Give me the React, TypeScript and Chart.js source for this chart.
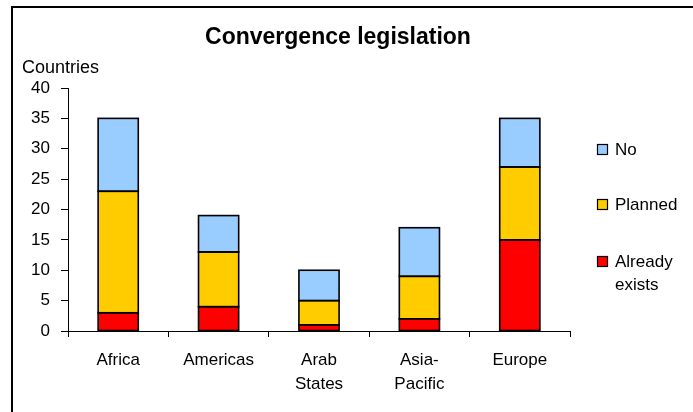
import React, { useEffect, useRef } from "react";
import { Chart, registerables } from "chart.js";

Chart.register(...registerables);

const categories: (string | string[])[] = ["Africa", "Americas", ["Arab", "States"], ["Asia-", "Pacific"], "Europe"];
const alreadyExists = [3, 4, 1, 2, 15];
const planned = [20, 9, 4, 7, 12];
const no = [12, 6, 5, 8, 8];
const yTicks = [0, 5, 10, 15, 20, 25, 30, 35, 40];

const FONT = "'Liberation Sans', Arial, sans-serif";

const outlinePlugin = {
  id: "outline",
  afterDatasetsDraw(chart: any) {
    const ctx = chart.ctx as CanvasRenderingContext2D;
    ctx.save();
    ctx.strokeStyle = "#000";
    ctx.lineWidth = 1.6;
    chart.data.datasets.forEach((_: any, di: number) => {
      const meta = chart.getDatasetMeta(di);
      meta.data.forEach((el: any) => {
        const { x, y, base, width } = el.getProps(["x", "y", "base", "width"], true);
        ctx.strokeRect(x - width / 2, Math.min(y, base), width, Math.abs(base - y));
      });
    });
    ctx.restore();
  },
};

const decorPlugin = {
  id: "decor",
  afterDraw(chart: any) {
    const ctx = chart.ctx as CanvasRenderingContext2D;
    ctx.save();
    // frame
    ctx.strokeStyle = "#000";
    ctx.lineWidth = 2;
    ctx.beginPath();
    ctx.moveTo(12, 420);
    ctx.lineTo(12, 7);
    ctx.lineTo(700, 7);
    ctx.stroke();
    // title
    ctx.fillStyle = "#000";
    ctx.font = `bold 23px ${FONT}`;
    ctx.textAlign = "center";
    ctx.textBaseline = "alphabetic";
    ctx.fillText("Convergence legislation", 338, 44);
    // y axis caption
    ctx.font = `18px ${FONT}`;
    ctx.textAlign = "left";
    ctx.fillText("Countries", 22, 73);
    // legend
    const items = [...chart.data.datasets].reverse();
    const rows: number[] = [150, 205, 262];
    items.forEach((ds: any, i: number) => {
      const cy = rows[i];
      ctx.fillStyle = ds.backgroundColor;
      ctx.fillRect(597.5, cy - 5.5, 10, 10);
      ctx.strokeStyle = "#000";
      ctx.lineWidth = 1.2;
      ctx.strokeRect(597.5, cy - 5.5, 10, 10);
      ctx.fillStyle = "#000";
      ctx.font = `17px ${FONT}`;
      ctx.textAlign = "left";
      ctx.textBaseline = "middle";
      const lines: string[] = Array.isArray(ds.legendLines) ? ds.legendLines : [ds.label];
      lines.forEach((ln, j) => ctx.fillText(ln, 615, cy + j * 23));
    });
    ctx.restore();
  },
};

export default function App() {
  const ref = useRef<HTMLCanvasElement | null>(null);
  useEffect(() => {
    if (!ref.current) return;
    const chart = new Chart(ref.current, {
      type: "bar",
      data: {
        labels: categories,
        datasets: [
          { label: "Already exists", legendLines: ["Already", "exists"], data: alreadyExists, backgroundColor: "#FF0000", borderWidth: 0 } as any,
          { label: "Planned", data: planned, backgroundColor: "#FFCC00", borderWidth: 0 },
          { label: "No", data: no, backgroundColor: "#99CCFF", borderWidth: 0 },
        ],
      },
      options: {
        animation: false,
        responsive: false,
        maintainAspectRatio: false,
        layout: { padding: { top: 88, right: 123, left: 0, bottom: 0 } },
        plugins: { legend: { display: false }, title: { display: false }, tooltip: { enabled: false } },
        datasets: { bar: { barPercentage: 0.4, categoryPercentage: 1 } },
        scales: {
          x: {
            stacked: true,
            afterFit: (s: any) => { s.height = 81; },
            grid: { display: true, drawOnChartArea: false, drawTicks: true, tickLength: 6, color: "#000", offset: true },
            border: { display: true, color: "#000", width: 1 },
            ticks: { color: "#000", font: { family: FONT, size: 17, lineHeight: 1.42 }, padding: 11, maxRotation: 0, autoSkip: false },
          },
          y: {
            stacked: true,
            min: 0,
            max: 40,
            afterFit: (s: any) => { s.width = 68; },
            afterBuildTicks: (s: any) => { s.ticks = yTicks.map((v) => ({ value: v })); },
            grid: { display: true, drawOnChartArea: false, drawTicks: true, tickLength: 7, color: "#000" },
            border: { display: true, color: "#000", width: 1 },
            ticks: { color: "#000", font: { family: FONT, size: 17 }, padding: 11 },
          },
        },
      },
      plugins: [outlinePlugin, decorPlugin],
    });
    return () => chart.destroy();
  }, []);
  return (
    <div style={{ position: "absolute", left: 0, top: 0, width: 693, height: 412, background: "#fff" }}>
      <canvas ref={ref} width={693} height={412} style={{ width: 693, height: 412, display: "block" }} />
    </div>
  );
}
